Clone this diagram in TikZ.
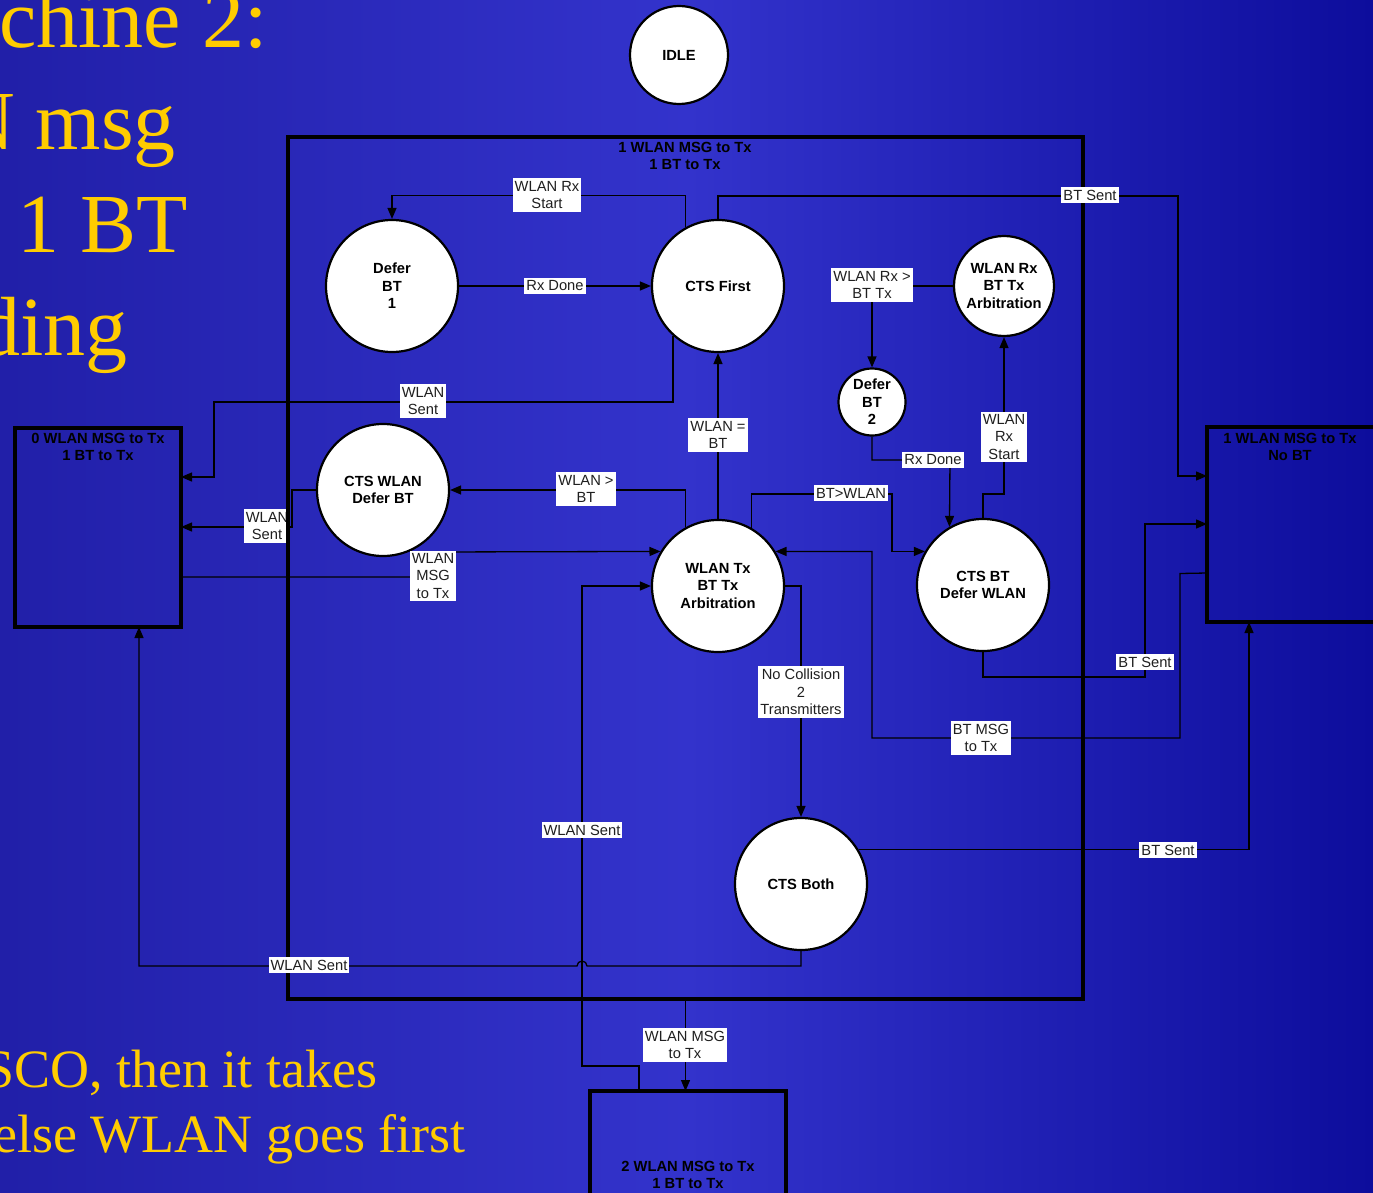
\documentclass[tikz,border=0pt]{standalone}
\usepackage{fontspec}
\setmainfont{Liberation Sans}
\newfontfamily\timesf{Liberation Serif}
\usetikzlibrary{arrows.meta,calc}
\definecolor{bgL}{RGB}{33,31,168}
\definecolor{bgM}{RGB}{51,51,204}
\definecolor{bgR}{RGB}{13,13,156}
\definecolor{gold}{RGB}{255,204,0}
\pgfdeclarelayer{bg}
\pgfdeclarelayer{mid}
\pgfsetlayers{bg,mid,main}
\begin{document}
\begin{tikzpicture}[x=1pt,y=-1pt,
  state/.style={circle,draw=black,line width=2.2pt,fill=white,inner sep=0pt,align=center,
    font=\fontsize{14.7}{17.5}\selectfont\bfseries},
  conn/.style={line width=1.3pt,draw=black},
  arr/.style={conn,-{Triangle[length=11pt,width=9pt]}},
  lbl/.style={fill=white,inner xsep=2pt,inner ysep=2.75pt,align=center,text=black!88,
    font=\fontsize{14.7}{17.5}\selectfont},
  sbox/.style={draw=black,line width=3.5pt,inner sep=0pt,outer sep=0pt},
  btitle/.style={align=center,inner sep=0pt,font=\fontsize{14.7}{17.5}\selectfont\bfseries},
  bigtxt/.style={text=gold,inner sep=0pt,anchor=base west,font=\timesf\fontsize{84}{100}\selectfont},
  smalltxt/.style={text=gold,inner sep=0pt,anchor=base west,font=\timesf\fontsize{54}{65}\selectfont}
]
\useasboundingbox (0,0) rectangle (1373,1193);

\begin{pgfonlayer}{bg}
  \shade[left color=bgL,right color=bgR,middle color=bgM] (0,0) rectangle (1373,1193);
  \begin{scope}
    \clip (0,0) rectangle (1373,1193);
    \node[bigtxt] (y1) at (-1,48) {chine 2:};
    \node[bigtxt] (y2) at (-46,150) {N msg};
    \node[bigtxt] (y3) at (17,252) {1 BT};
    \node[bigtxt] (y4) at (-22,355) {ding};
    \node[smalltxt] (y5) at (-16,1087) {SCO, then it takes};
    \node[smalltxt] (y6) at (-7,1152) {else WLAN goes first};
  \end{scope}
\end{pgfonlayer}

% boxes
\node[sbox,minimum width=795pt,minimum height=862pt] (big) at (685.5,568) {};
\node[btitle] (bigt) at (685,156) {1 WLAN MSG to Tx\\1 BT to Tx};
\node[sbox,minimum width=166pt,minimum height=199pt] (lbox) at (98,527.5) {};
\node[btitle] (lboxt) at (98,447) {0 WLAN MSG to Tx\\1 BT to Tx};
\node[sbox,minimum width=168pt,minimum height=195pt] (rbox) at (1291,524.5) {};
\node[btitle] (rboxt) at (1290,447) {1 WLAN MSG to Tx\\No BT};
\node[sbox,minimum width=196pt,minimum height=130pt] (bbox) at (688,1156) {};
\node[btitle] (bboxt) at (688,1175) {2 WLAN MSG to Tx\\1 BT to Tx};

% states
\node[state,minimum size=98pt] (idle) at (679,55) {IDLE};
\node[state,minimum size=132pt] (d1) at (392,286) {Defer\\BT\\1};
\node[state,minimum size=132pt] (cf) at (718,286) {CTS First};
\node[state,minimum size=100pt] (wrx) at (1004,286) {WLAN Rx\\BT Tx\\Arbitration};
\node[state,minimum size=67pt] (d2) at (872,402) {Defer\\BT\\2};
\node[state,minimum size=132pt] (cw) at (383,490) {CTS WLAN\\Defer BT};
\node[state,minimum size=132pt] (arb) at (718,586) {WLAN Tx\\BT Tx\\Arbitration};
\node[state,minimum size=132pt] (cb) at (983,585) {CTS BT\\Defer WLAN};
\node[state,minimum size=132pt] (both) at (801,884) {CTS Both};

\begin{pgfonlayer}{mid}
  \draw[arr] (cf.119) -- ++(0,-32) -| (d1.north);
  \draw[arr] (d1.east) -- (cf.west);
  \draw[arr] (cf.north) |- (1178,196) |- ($(rbox.north west)+(0,49)$);
  \draw[arr] (cf.228) |- (214,402) |- ($(lbox.north east)+(0,49)$);
  \draw[arr] (arb.north) -- (cf.south);
  \draw[arr] (arb.119) |- (cw.east);
  \draw[arr] (cw.west) -- (292,490) |- ($(lbox.north east)+(0,99)$);
  \draw[arr] ($(lbox.north east)+(0,149)$) -| (433,552) -- (arb.149);
  \draw[arr] (both.south) -- (801,966) -- (587,966)
     arc[start angle=0,end angle=180,radius=5pt] -- (139,966) -- ($(lbox.south west)+(124,0)$);
  \draw[arr] ($(bbox.north west)+(49,0)$) |- (582,1066) |- (arb.west);
  \draw[arr] (big.south) -- (big.south |- bbox.north);
  \draw[arr] (arb.east) -| (both.north);
  \draw[arr] (arb.60) |- (892,494) |- (cb.150);
  \draw[arr] (d2.south) |- (950,460) -- (cb.120);
  \draw[arr] (cb.north) |- (1004,494) -- (wrx.south);
  \draw[arr] (wrx.west) -| (d2.north);
  \draw[arr] ($(rbox.north west)+(0,146)$) -- (1180,573.5) |- (872,738) |- (arb.31);
  \draw[arr] (cb.south) |- (1145,677) |- ($(rbox.north west)+(0,97)$);
  \draw[arr] (both.31) -| ($(rbox.south west)+(42,0)$);
  \node[lbl] (l7) at (267,526) {WLAN\\Sent};
\end{pgfonlayer}

% labels
\node[lbl] (l1) at (547,195) {WLAN Rx\\Start};
\node[lbl] (l2) at (555,286) {Rx Done};
\node[lbl] (l3) at (1090,195) {BT Sent};
\node[lbl] (l4) at (423,401) {WLAN\\Sent};
\node[lbl] (l5) at (718,435) {WLAN =\\BT};
\node[lbl] (l6) at (586,489) {WLAN >\\BT};
\node[lbl] (l8) at (433,576) {WLAN\\MSG\\to Tx};
\node[lbl] (l9) at (309,965) {WLAN Sent};
\node[lbl] (l10) at (582,830) {WLAN Sent};
\node[lbl] (l11) at (685,1045) {WLAN MSG\\to Tx};
\node[lbl] (l12) at (801,692) {No Collision\\2\\Transmitters};
\node[lbl] (l13) at (851,493) {BT>WLAN};
\node[lbl] (l14) at (933,460) {Rx Done};
\node[lbl] (l15) at (1004,437) {WLAN\\Rx\\Start};
\node[lbl] (l16) at (872,285) {WLAN Rx >\\BT Tx};
\node[lbl] (l17) at (981,738) {BT MSG\\to Tx};
\node[lbl] (l18) at (1145,662) {BT Sent};
\node[lbl] (l19) at (1168,850) {BT Sent};
\end{tikzpicture}
\end{document}
